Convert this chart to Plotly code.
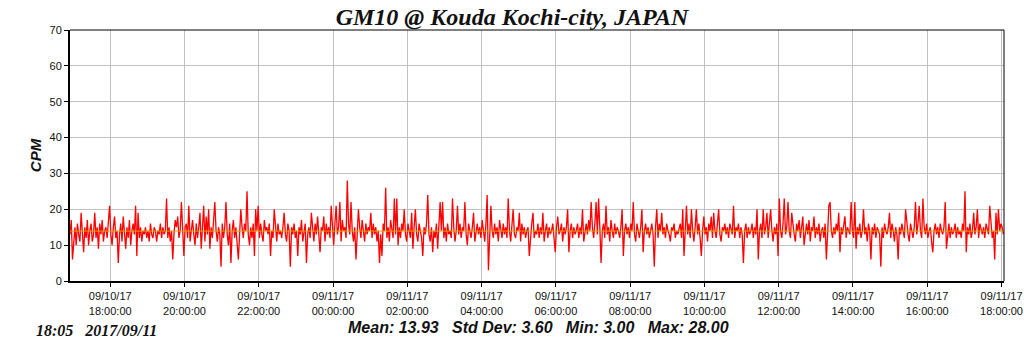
import plotly.graph_objects as go
import pandas as pd

# ---- data (2-minute samples starting 2017-09-10 16:55) ----
start_time = "2017-09-10 16:55"
step_minutes = 2

cpm_seg_a = [13,17,6,12,15,10,16,13,11,19, 14,8,15,12,17,10,14,16,11,13,
             19,12,15,9,16,13,17,11,14,15, 12,16,21,13,10,15,18,12,14,5,
             13,16,11,18,14,9,15,12,17,10, 14,16,13,21,7,19,12,15,11,14,
             13,15,12,14,11,16,13,12,15,14, 11,14,13,16,12,15,13,14,23,12,
             15,11,14,6,13,17,15,18,12,14, 22,13,7,15,16,12,21,11,14,17,
             13,10,16,12,15,19,9,14,21,11, 18,13,20,9,15,12,16,22,14,11,
             15,13,4,16,12,15,22,13]
cpm_seg_b = [10,16,
             5,14,17,12,15,11,6,13,20,15, 12,16,14,25,13,10,15,12,16,7,
             20,14,21,12,16,13,11,17,14,15, 13,16,7,14,12,20,15,11,16,13,
             14,12,15,19,13,11,16,14,4,15, 13,16,12,14,7,15,13,17,11,14,
             16,5,13,15,12,19,14,11,16,13, 18,12,8,15,14,18,11,16,13,15,
             12,21,14,10,16,21,13,15,22,11, 17,14,15,12,28,16,13,22,14,11,
             15,6,13,20,15,12,17,14,11,16, 13,15,14,19,12,16,13,15,11,14]
cpm_seg_c = [5,13,7,16,14,26,12,15,11,17, 14,12,23,13,23,10,15,12,16,14,
             20,13,11,16,14,12,19,9,15,20, 13,11,16,14,12,7,15,13,16,24,
             13,11,15,8,14,12,16,9,15,22, 14,22,12,15,11,16,13,14,12,23,
             15,11,14,21,13,16,12,15,14,22, 13,10,16,14,12,15,19,11,14,16,
             13,15,12,17,14,11,16,24,3,13, 21,14,12,16,13,15,11,17,14,12,
             16,13,15,12,23,14,11,16,20,13, 12,15,14,19,11,16,13,15,12,14,
             15,7,13,16,19,12]
cpm_seg_d = [14,13,16,12,
             15,13,19,11,14,16,12,15,13,14, 16,12,8,15,18,13,14,16,11,15,
             13,15,20,8,14,16,12,15,13,14, 16,12,15,13,20,11,14,16,13,17,
             14,22,15,12,16,22,13,23,15,5, 14,16,12,21,13,15,11,17,14,12,
             16,13,15,14,12,15,20,7,14,16, 13,15,12,16,14,22,13,11,16,14,
             12,15,20,8,14,16,13,15,12,14, 16,13,4,15,20,12,16,14,19,13,
             15,12,16,14,13,11,15,14,16,12, 14,13,15,16,12,20,7,14,21,13,
             16,12,20,14,11]
cpm_seg_e = [15,20,13,16,12,
             7,14,18,13,15,11,16,14,18,12, 19,14,12,16,20,13,11,15,14,16,
             13,15,12,16,14,13,21,12,15,14, 16,12,15,13,5,14,16,12,15,13,
             14,16,12,15,13,20,6,14,16,12, 20,13,15,19,12,16,20,14,11,15,
             13,16,7,23,14,12,16,23,13,15, 22,14,12,19,15,13,11,16,14,17,
             12,15,18,10,14,16,13,17,11,15, 14,18,12,15,13,16,11,14,15,12,
             16,6,13,21,22,14,12,15,13,16, 14,19,8,15,13,16,18,12,15,14,
             13]
cpm_seg_f = [22,14,12,22,9,15,13,16,12,
             14,20,13,15,11,16,14,6,15,13, 16,12,15,14,13,4,15,12,16,14,
             13,15,19,12,16,14,11,15,13,6, 15,13,16,14,12,20,15,13,11,16,
             14,12,15,22,13,16,21,14,12,23, 15,13,16,12,14,15,11,8,14,16,
             13,15,12,16,14,13,15,22,9,14, 16,12,15,13,14,16,12,15,13,14,
             12,16,14,25,8,15,13,16,12,14, 19,13,15,20,12,16,14,13,15,12,
             16,14,13,21,15,12,14,6,19,13, 20,14,16,15,13]

mean_value = 13.93
stats_text = "Mean: 13.93   Std Dev: 3.60   Min: 3.00   Max: 28.00"
title_text = "GM10 @ Kouda Kochi-city, JAPAN"
stamp_text = "18:05   2017/09/11"

tick_times = ["2017-09-10 18:00", "2017-09-10 20:00", "2017-09-10 22:00",
              "2017-09-11 00:00", "2017-09-11 02:00", "2017-09-11 04:00",
              "2017-09-11 06:00", "2017-09-11 08:00", "2017-09-11 10:00",
              "2017-09-11 12:00", "2017-09-11 14:00", "2017-09-11 16:00",
              "2017-09-11 18:00"]
tick_labels = ["09/10/17<br>18:00:00", "09/10/17<br>20:00:00", "09/10/17<br>22:00:00",
               "09/11/17<br>00:00:00", "09/11/17<br>02:00:00", "09/11/17<br>04:00:00",
               "09/11/17<br>06:00:00", "09/11/17<br>08:00:00", "09/11/17<br>10:00:00",
               "09/11/17<br>12:00:00", "09/11/17<br>14:00:00", "09/11/17<br>16:00:00",
               "09/11/17<br>18:00:00"]
x_range = ["2017-09-10 16:55", "2017-09-11 18:04"]
y_ticks = [0, 10, 20, 30, 40, 50, 60, 70]

cpm = cpm_seg_a + cpm_seg_b + cpm_seg_c + cpm_seg_d + cpm_seg_e + cpm_seg_f
times = pd.date_range(start=start_time, periods=len(cpm), freq=f"{step_minutes}min")

fig = go.Figure()
fig.add_trace(go.Scatter(x=times, y=cpm, mode="lines",
                         line=dict(color="#ff0000", width=1.3), hoverinfo="skip"))
fig.add_trace(go.Scatter(x=x_range, y=[mean_value, mean_value], mode="lines",
                         line=dict(color="#e0a000", width=1), hoverinfo="skip"))

tick_font = dict(family="Liberation Sans, Arial", size=11, color="#111111")

fig.update_layout(
    width=1024, height=351,
    margin=dict(l=70, r=20, t=30, b=70, autoexpand=False),
    paper_bgcolor="white", plot_bgcolor="white",
    showlegend=False,
    title=dict(text="<b><i>" + title_text + "</i></b>", x=0.5, xanchor="center",
               y=1 - 17 / 351, yanchor="middle",
               font=dict(family="Liberation Serif, Times New Roman", size=24, color="#111111")),
    xaxis=dict(range=x_range, tickmode="array", tickvals=tick_times, ticktext=tick_labels,
               automargin=False,
               showgrid=True, gridcolor="#c0c0c0", gridwidth=1,
               showline=True, linecolor="black", linewidth=2,
               ticks="outside", ticklen=4, tickcolor="black", tickwidth=1,
               tickfont=tick_font, zeroline=False),
    yaxis=dict(range=[0, 70], tickmode="array", tickvals=y_ticks,
               automargin=False,
               showgrid=True, gridcolor="#c0c0c0", gridwidth=1,
               showline=True, linecolor="black", linewidth=2,
               ticks="outside", ticklen=4, tickcolor="black", tickwidth=1,
               tickfont=tick_font, zeroline=False,
               title=dict(text="<b><i>CPM</i></b>", standoff=4,
                          font=dict(family="Liberation Sans, Arial", size=15, color="#111111"))),
)

# thin top and right frame lines
fig.add_shape(type="line", xref="paper", yref="paper", x0=0, x1=1, y0=1, y1=1,
              line=dict(color="black", width=1))
fig.add_shape(type="line", xref="paper", yref="paper", x0=1, x1=1, y0=0, y1=1,
              line=dict(color="black", width=1))

fig.add_annotation(text="<b><i>" + stats_text.replace(" ", "&nbsp;") + "</i></b>", xref="paper", yref="paper",
                   x=(538 - 70) / 934, y=-(327 - 281) / 251, xanchor="center", yanchor="middle",
                   showarrow=False,
                   font=dict(family="Liberation Sans, Arial", size=16, color="#111111"))
fig.add_annotation(text="<b><i>" + stamp_text.replace(" ", "&nbsp;") + "</i></b>", xref="paper", yref="paper",
                   x=-(70 - 34) / 934, y=-(330 - 281) / 251, xanchor="left", yanchor="middle",
                   showarrow=False,
                   font=dict(family="Liberation Serif, Times New Roman", size=16, color="#111111"))

fig.write_html("out.html")
